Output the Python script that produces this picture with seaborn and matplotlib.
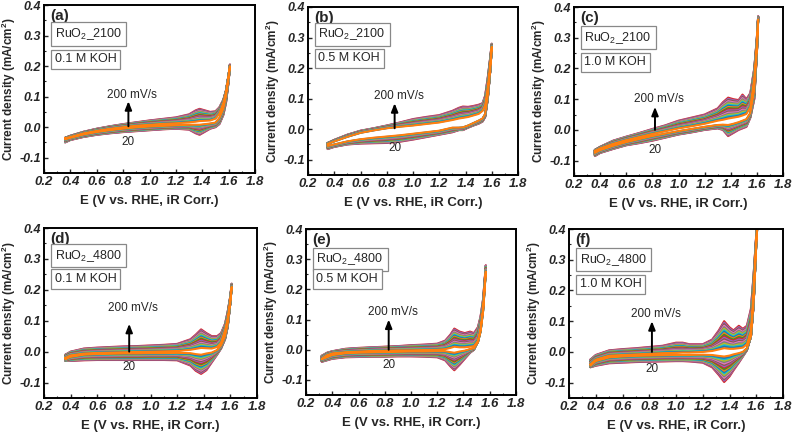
import matplotlib
matplotlib.use('Agg')
import matplotlib.pyplot as plt
import numpy as np
import pandas as pd
import seaborn as sns

# scan rates (mV/s), drawn from the outermost loop to the innermost
RATES = [200, 190, 180, 170, 160, 150, 140, 130, 120, 110, 100, 90, 80, 70, 60, 50, 40, 30, 20]
TAB = ['#1f77b4', '#ff7f0e', '#2ca02c', '#d62728', '#9467bd',
       '#8c564b', '#e377c2', '#7f7f7f', '#bcbd22', '#17becf']

# (a) RuO2_2100, 0.1 M KOH  -- potential grid and current densities
E_A = [0.36, 0.40, 0.50, 0.60, 0.70, 0.80, 0.90, 1.00, 1.10, 1.20, 1.30, 1.35, 1.38, 1.42, 1.46, 1.50, 1.53, 1.56, 1.58, 1.60, 1.61]
A_FWD_200 = [-0.035, -0.028, -0.015, -0.005, 0.003, 0.010, 0.016, 0.022, 0.027, 0.032, 0.042, 0.055, 0.060, 0.055, 0.050, 0.052, 0.065, 0.090, 0.120, 0.170, 0.205]
A_REV_200 = [-0.050, -0.042, -0.032, -0.025, -0.020, -0.016, -0.013, -0.010, -0.007, -0.005, -0.008, -0.020, -0.025, -0.015, -0.005, 0.000, 0.010, 0.040, 0.080, 0.150, 0.205]
A_FWD_20 = [-0.036, -0.032, -0.020, -0.012, -0.005, 0.000, 0.005, 0.008, 0.011, 0.013, 0.016, 0.018, 0.020, 0.021, 0.022, 0.028, 0.045, 0.080, 0.115, 0.170, 0.200]
A_REV_20 = [-0.040, -0.035, -0.024, -0.016, -0.010, -0.005, -0.001, 0.002, 0.004, 0.006, 0.008, 0.008, 0.008, 0.010, 0.012, 0.015, 0.030, 0.060, 0.100, 0.160, 0.200]

# (b) RuO2_2100, 0.5 M KOH
E_B = [0.35, 0.40, 0.50, 0.60, 0.70, 0.80, 0.90, 1.00, 1.10, 1.20, 1.30, 1.35, 1.38, 1.42, 1.46, 1.50, 1.53, 1.55, 1.57, 1.59, 1.60]
B_FWD_200 = [-0.045, -0.035, -0.018, -0.005, 0.003, 0.012, 0.022, 0.033, 0.040, 0.046, 0.060, 0.070, 0.074, 0.073, 0.076, 0.080, 0.085, 0.110, 0.170, 0.240, 0.280]
B_REV_200 = [-0.065, -0.058, -0.050, -0.047, -0.046, -0.045, -0.041, -0.034, -0.026, -0.018, -0.010, -0.003, -0.003, 0.005, 0.012, 0.018, 0.025, 0.040, 0.100, 0.200, 0.275]
B_FWD_20 = [-0.048, -0.040, -0.025, -0.012, -0.004, 0.003, 0.008, 0.012, 0.017, 0.022, 0.030, 0.035, 0.037, 0.040, 0.045, 0.050, 0.060, 0.080, 0.140, 0.220, 0.270]
B_REV_20 = [-0.055, -0.050, -0.040, -0.033, -0.028, -0.024, -0.020, -0.015, -0.010, -0.005, 0.005, 0.005, 0.006, 0.012, 0.020, 0.028, 0.035, 0.050, 0.110, 0.200, 0.270]

# (c) RuO2_2100, 1.0 M KOH
E_C = [0.36, 0.40, 0.50, 0.60, 0.70, 0.80, 0.90, 1.00, 1.10, 1.20, 1.30, 1.34, 1.38, 1.42, 1.46, 1.49, 1.52, 1.55, 1.58, 1.60, 1.61]
C_FWD_200 = [-0.065, -0.055, -0.035, -0.022, -0.010, 0.003, 0.015, 0.030, 0.040, 0.050, 0.070, 0.090, 0.105, 0.100, 0.097, 0.115, 0.100, 0.120, 0.200, 0.300, 0.370]
C_REV_200 = [-0.085, -0.075, -0.062, -0.050, -0.043, -0.035, -0.025, -0.015, -0.008, 0.000, 0.005, 0.000, -0.020, -0.010, 0.000, 0.005, 0.010, 0.040, 0.100, 0.250, 0.370]
C_FWD_20 = [-0.068, -0.060, -0.045, -0.033, -0.023, -0.013, -0.004, 0.005, 0.012, 0.020, 0.030, 0.033, 0.037, 0.040, 0.043, 0.047, 0.052, 0.075, 0.170, 0.280, 0.360]
C_REV_20 = [-0.075, -0.066, -0.052, -0.040, -0.030, -0.020, -0.012, -0.004, 0.003, 0.010, 0.016, 0.017, 0.016, 0.020, 0.025, 0.030, 0.035, 0.055, 0.130, 0.260, 0.360]

# (d) RuO2_4800, 0.1 M KOH
E_D = [0.36, 0.40, 0.50, 0.60, 0.70, 0.80, 0.90, 1.00, 1.10, 1.20, 1.30, 1.34, 1.38, 1.42, 1.46, 1.50, 1.53, 1.56, 1.58, 1.60, 1.61]
D_FWD_200 = [-0.010, 0.000, 0.010, 0.013, 0.015, 0.017, 0.018, 0.020, 0.022, 0.025, 0.040, 0.055, 0.072, 0.060, 0.050, 0.050, 0.060, 0.090, 0.130, 0.180, 0.220]
D_REV_200 = [-0.030, -0.030, -0.028, -0.027, -0.027, -0.027, -0.027, -0.027, -0.027, -0.028, -0.045, -0.062, -0.072, -0.060, -0.035, -0.010, 0.010, 0.040, 0.080, 0.160, 0.220]
D_FWD_20 = [-0.020, -0.012, -0.006, -0.004, -0.003, -0.002, -0.001, 0.000, 0.001, 0.002, 0.006, 0.009, 0.012, 0.011, 0.010, 0.015, 0.030, 0.070, 0.110, 0.170, 0.210]
D_REV_20 = [-0.025, -0.017, -0.010, -0.008, -0.007, -0.006, -0.006, -0.005, -0.005, -0.004, -0.005, -0.008, -0.010, -0.006, -0.003, 0.005, 0.020, 0.050, 0.090, 0.160, 0.210]

# (e) RuO2_4800, 0.5 M KOH
E_E = [0.32, 0.36, 0.40, 0.50, 0.60, 0.70, 0.80, 0.90, 1.00, 1.10, 1.20, 1.26, 1.30, 1.33, 1.37, 1.41, 1.45, 1.48, 1.51, 1.53, 1.55, 1.57]
E_FWD_200 = [-0.020, -0.010, -0.005, 0.003, 0.006, 0.008, 0.010, 0.012, 0.015, 0.017, 0.020, 0.030, 0.050, 0.070, 0.060, 0.055, 0.060, 0.055, 0.075, 0.110, 0.170, 0.280]
E_REV_200 = [-0.040, -0.035, -0.030, -0.025, -0.024, -0.023, -0.023, -0.022, -0.022, -0.023, -0.025, -0.035, -0.055, -0.068, -0.050, -0.030, -0.010, 0.000, 0.030, 0.070, 0.150, 0.280]
E_FWD_20 = [-0.030, -0.018, -0.012, -0.008, -0.006, -0.004, -0.003, -0.002, -0.002, -0.001, 0.000, 0.002, 0.006, 0.010, 0.008, 0.008, 0.010, 0.012, 0.030, 0.070, 0.140, 0.260]
E_REV_20 = [-0.032, -0.025, -0.018, -0.012, -0.010, -0.009, -0.008, -0.007, -0.006, -0.006, -0.005, -0.005, -0.008, -0.010, -0.006, -0.003, 0.002, 0.005, 0.025, 0.060, 0.130, 0.260]

# (f) RuO2_4800, 1.0 M KOH
E_F = [0.36, 0.40, 0.50, 0.60, 0.70, 0.80, 0.90, 1.00, 1.05, 1.10, 1.20, 1.27, 1.32, 1.36, 1.40, 1.43, 1.47, 1.50, 1.53, 1.56, 1.58, 1.60, 1.62]
F_FWD_200 = [-0.025, -0.010, 0.005, 0.009, 0.012, 0.016, 0.020, 0.030, 0.030, 0.025, 0.025, 0.040, 0.070, 0.100, 0.080, 0.070, 0.085, 0.075, 0.085, 0.140, 0.250, 0.380, 0.500]
F_REV_200 = [-0.050, -0.045, -0.037, -0.035, -0.033, -0.032, -0.031, -0.030, -0.030, -0.031, -0.035, -0.050, -0.075, -0.098, -0.080, -0.060, -0.035, -0.015, 0.005, 0.050, 0.150, 0.360, 0.500]
F_FWD_20 = [-0.040, -0.025, -0.012, -0.010, -0.008, -0.006, -0.004, -0.003, -0.002, -0.002, 0.000, 0.003, 0.008, 0.012, 0.010, 0.010, 0.012, 0.014, 0.025, 0.070, 0.200, 0.360, 0.500]
F_REV_20 = [-0.045, -0.030, -0.018, -0.015, -0.013, -0.012, -0.011, -0.010, -0.010, -0.010, -0.009, -0.010, -0.013, -0.015, -0.012, -0.008, -0.004, 0.000, 0.012, 0.050, 0.160, 0.350, 0.500]

SAMPLES = ['RuO$_\\mathrm{2}$_2100'] * 3 + ['RuO$_\\mathrm{2}$_4800'] * 3
ELECTROLYTES = ['0.1 M KOH', '0.5 M KOH', '1.0 M KOH'] * 2
LETTERS = ['(a)', '(b)', '(c)', '(d)', '(e)', '(f)']

panels = [
    (E_A, A_FWD_200, A_REV_200, A_FWD_20, A_REV_20),
    (E_B, B_FWD_200, B_REV_200, B_FWD_20, B_REV_20),
    (E_C, C_FWD_200, C_REV_200, C_FWD_20, C_REV_20),
    (E_D, D_FWD_200, D_REV_200, D_FWD_20, D_REV_20),
    (E_E, E_FWD_200, E_REV_200, E_FWD_20, E_REV_20),
    (E_F, F_FWD_200, F_REV_200, F_FWD_20, F_REV_20),
]

# axes boxes in pixels: left, right, top, bottom
BOXES = [(44, 255, 5, 173), (308, 518, 7, 175), (574, 783, 7, 176),
         (44, 257, 228, 398), (306, 516, 229, 395), (569, 783, 229, 398)]
# arrow x, arrow start/end, label y, "20" y
ARROWS = [(0.84, 0.003, 0.085, 0.105, -0.048), (0.86, 0.003, 0.085, 0.11, -0.06),
          (0.82, 0.000, 0.075, 0.1, -0.067), (0.84, 0.000, 0.09, 0.14, -0.05),
          (0.83, 0.000, 0.10, 0.125, -0.05), (0.82, 0.000, 0.10, 0.122, -0.056)]
BOX_Y = [(0.305, 0.222), (0.31, 0.232), (0.30, 0.22), (0.31, 0.235), (0.30, 0.235), (0.30, 0.22)]

sns.set_style('ticks')
plt.rcParams['font.family'] = ['Liberation Sans', 'DejaVu Sans']
plt.rcParams['mathtext.fontset'] = 'custom'
plt.rcParams['mathtext.rm'] = 'Liberation Sans'
plt.rcParams['mathtext.bf'] = 'Liberation Sans:bold'

W, H = 793, 433
fig = plt.figure(figsize=(W / 100, H / 100), dpi=100)


def cv_frame(e, fwd, rev):
    # closed loop: anodic sweep up, cathodic sweep back down
    x = list(e) + list(e[::-1]) + [e[0]]
    y = list(fwd) + list(rev[::-1]) + [fwd[0]]
    return np.array(x), np.array(y)


for i, (e, f200, r200, f20, r20) in enumerate(panels):
    l, r, t, b = BOXES[i]
    ax = fig.add_axes([l / W, 1 - b / H, (r - l) / W, (b - t) / H])
    x, y200 = cv_frame(e, f200, r200)
    _, y20 = cv_frame(e, f20, r20)
    for k, v in enumerate(RATES):
        w = (v - 20) / 180.0
        df = pd.DataFrame({'E': x, 'j': y20 + (y200 - y20) * w})
        sns.lineplot(data=df, x='E', y='j', sort=False, estimator=None,
                     color=TAB[(3 + k) % 10], lw=1.5, ax=ax)

    ax.set_xlim(0.2, 1.8)
    ax.set_ylim(-0.15, 0.4)
    ax.set_xticks(np.arange(0.2, 1.81, 0.2), ['%.1f' % t_ for t_ in np.arange(0.2, 1.81, 0.2)],
                  fontsize=9.5, fontweight='bold', fontstyle='italic')
    ax.set_yticks([-0.1, 0.0, 0.1, 0.2, 0.3, 0.4], ['-0.1', '0.0', '0.1', '0.2', '0.3', '0.4'],
                  fontsize=9, fontweight='bold', fontstyle='italic')
    ax.set_xticks(np.arange(0.3, 1.8, 0.2), minor=True)
    ax.set_yticks(np.arange(-0.15, 0.4, 0.1), minor=True)
    ax.tick_params(which='major', direction='in', length=3, width=1, pad=2)
    ax.tick_params(which='minor', direction='in', length=1.5, width=0.8)
    for s in ax.spines.values():
        s.set_linewidth(1.4)
        s.set_color('black')
    ax.set_xlabel('E (V vs. RHE, iR Corr.)', fontsize=9.5, fontweight='bold', labelpad=5)
    ax.set_ylabel('Current density (mA/cm$^\\mathbf{2}$)', fontsize=8.5, fontweight='bold', labelpad=1)

    ax.text(0.25, 0.365, LETTERS[i], fontsize=11, fontweight='bold', va='center')
    bbox = dict(boxstyle='square,pad=0.3', fc='white', ec='#888888', lw=0.9)
    ax.text(0.28, BOX_Y[i][0], SAMPLES[i], fontsize=9, va='center', bbox=bbox)
    ax.text(0.28, BOX_Y[i][1], ELECTROLYTES[i], fontsize=9, va='center', bbox=bbox)

    axx, y0, y1, ty, t20 = ARROWS[i]
    ax.annotate('', xy=(axx, y1), xytext=(axx, y0),
                arrowprops=dict(arrowstyle='-|>,head_width=0.2,head_length=0.5', color='black',
                                lw=1.4, shrinkA=0, shrinkB=0))
    ax.text(axx + 0.03, ty, '200 mV/s', fontsize=8.5, ha='center', va='center')
    ax.text(axx, t20, '20', fontsize=8.5, ha='center', va='center')

fig.savefig('out.png', dpi=100)
